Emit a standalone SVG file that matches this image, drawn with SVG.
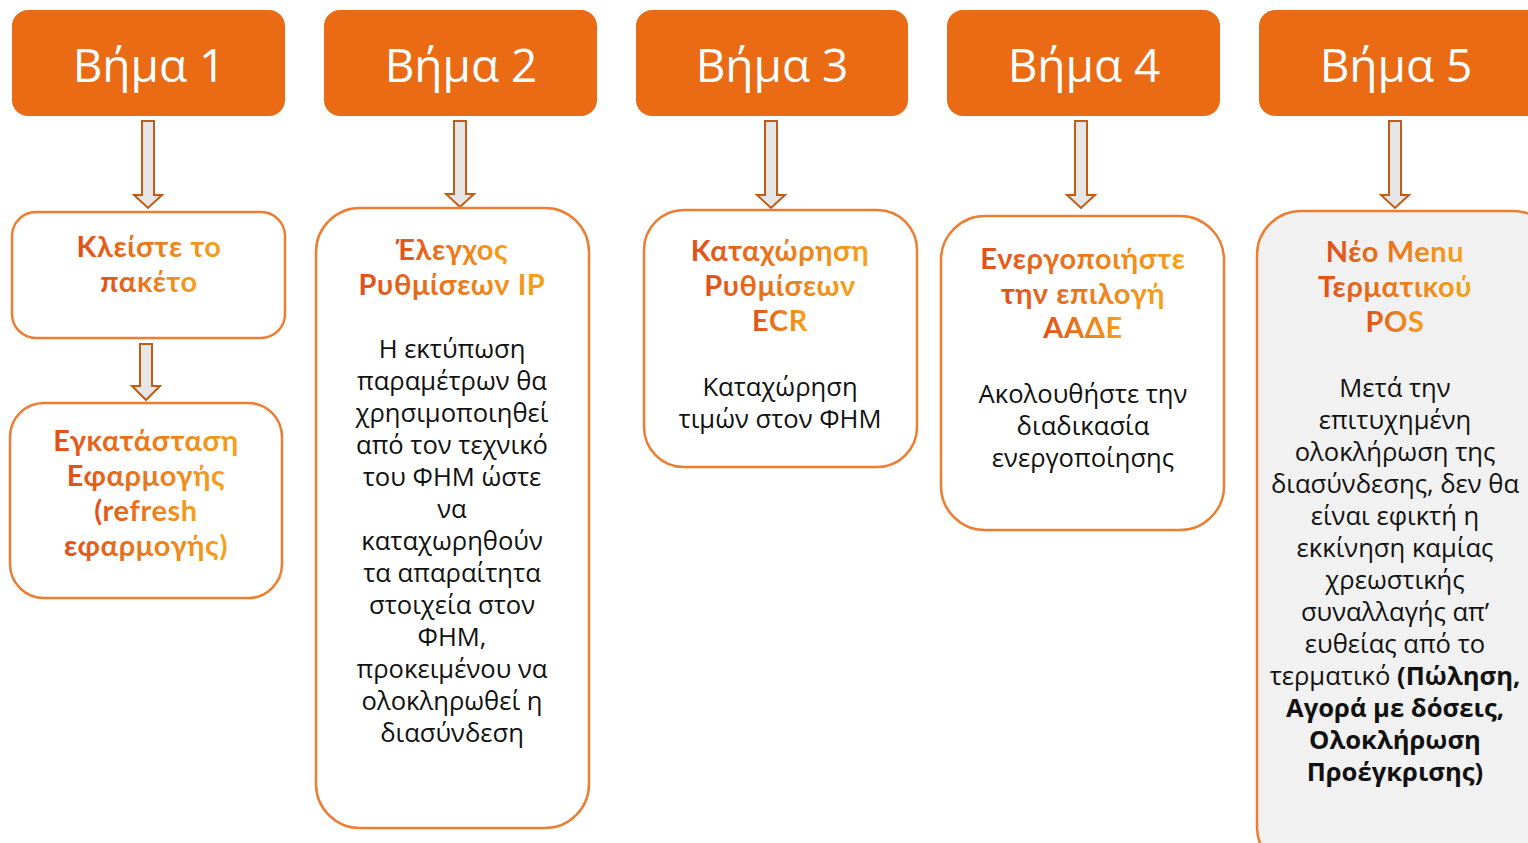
<svg xmlns="http://www.w3.org/2000/svg" width="1528" height="843" viewBox="0 0 1528 843">
<defs>
<linearGradient id="tg" x1="0" y1="0" x2="1" y2="0">
<stop offset="0" stop-color="#E0501B"/>
<stop offset="1" stop-color="#F6A21B"/>
</linearGradient>
<style>
.hdr{fill:#EB6A14}
.hdrt{fill:#fff;font-family:"Open Sans","Noto Sans",sans-serif;font-size:46px;text-anchor:middle}
.box{fill:#fff;stroke:#ED7D31;stroke-width:2.5}
.box5{fill:#F1F1F1;stroke:#ED7D31;stroke-width:2.5}
.ttl{fill:url(#tg);font-family:"Lato","Noto Sans",sans-serif;font-weight:bold;font-size:29px;letter-spacing:0.6px;text-anchor:middle}
.bd{fill:#111;font-family:"Open Sans","Noto Sans",sans-serif;font-size:25.6px;text-anchor:middle}
.b{font-weight:bold}
.arr{fill:#E7E6E6;stroke:#C55A11;stroke-width:2;stroke-linejoin:miter}
</style>
</defs>

<g id="connectors">
<path class="arr" d="M142,121 H154 V195 H162 L148,208 L134,195 H142 Z"/>
<path class="arr" d="M140,344 H152 V386 H160 L146,400 L132,386 H140 Z"/>
<path class="arr" d="M454,121 H466 V194 H474 L460,207 L446,194 H454 Z"/>
<path class="arr" d="M765,121 H777 V195 H785 L771,208 L757,195 H765 Z"/>
<path class="arr" d="M1075,121 H1087 V195 H1095 L1081,208 L1067,195 H1075 Z"/>
<path class="arr" d="M1389,121 H1401 V195 H1409 L1395,208 L1381,195 H1389 Z"/>
</g>

<g id="step1">
<rect class="hdr" x="12" y="10" width="273" height="106" rx="16"/>
<text class="hdrt" x="149" y="82">Βήμα 1</text>
</g>
<g id="step2">
<rect class="hdr" x="324" y="10" width="273" height="106" rx="16"/>
<text class="hdrt" x="461" y="82">Βήμα 2</text>
</g>
<g id="step3">
<rect class="hdr" x="636" y="10" width="272" height="106" rx="16"/>
<text class="hdrt" x="772" y="82">Βήμα 3</text>
</g>
<g id="step4">
<rect class="hdr" x="947" y="10" width="273" height="106" rx="16"/>
<text class="hdrt" x="1084" y="82">Βήμα 4</text>
</g>
<g id="step5">
<rect class="hdr" x="1259" y="10" width="290" height="106" rx="16"/>
<text class="hdrt" x="1396" y="82">Βήμα 5</text>
</g>

<g id="close-package">
<rect class="box" x="12" y="212" width="273" height="126" rx="24"/>
<text class="ttl" x="149" y="257">Κλείστε το</text>
<text class="ttl" x="149" y="292">πακέτο</text>
</g>

<g id="install-app">
<rect class="box" x="10" y="403" width="272" height="195" rx="34"/>
<text class="ttl" x="146" y="451">Εγκατάσταση</text>
<text class="ttl" x="146" y="486">Εφαρμογής</text>
<text class="ttl" x="146" y="521">(refresh</text>
<text class="ttl" x="146" y="556">εφαρμογής)</text>
</g>

<g id="ip-settings">
<rect class="box" x="316" y="208" width="273" height="620" rx="44"/>
<text class="ttl" x="452" y="260">Έλεγχος</text>
<text class="ttl" x="452" y="295">Ρυθμίσεων IP</text>
<text class="bd" x="452" y="358">Η εκτύπωση</text>
<text class="bd" x="452" y="390">παραμέτρων θα</text>
<text class="bd" x="452" y="422">χρησιμοποιηθεί</text>
<text class="bd" x="452" y="454">από τον τεχνικό</text>
<text class="bd" x="452" y="486">του ΦΗΜ ώστε</text>
<text class="bd" x="452" y="518">να</text>
<text class="bd" x="452" y="550">καταχωρηθούν</text>
<text class="bd" x="452" y="582">τα απαραίτητα</text>
<text class="bd" x="452" y="614">στοιχεία στον</text>
<text class="bd" x="452" y="646">ΦΗΜ,</text>
<text class="bd" x="452" y="678">προκειμένου να</text>
<text class="bd" x="452" y="710">ολοκληρωθεί η</text>
<text class="bd" x="452" y="742">διασύνδεση</text>
</g>

<g id="ecr-settings">
<rect class="box" x="644" y="210" width="273" height="257" rx="40"/>
<text class="ttl" x="780" y="261">Καταχώρηση</text>
<text class="ttl" x="780" y="296">Ρυθμίσεων</text>
<text class="ttl" x="780" y="331">ECR</text>
<text class="bd" x="780" y="396">Καταχώρηση</text>
<text class="bd" x="780" y="428">τιμών στον ΦΗΜ</text>
</g>

<g id="aade">
<rect class="box" x="941" y="216" width="283" height="314" rx="44"/>
<text class="ttl" x="1083" y="269">Ενεργοποιήστε</text>
<text class="ttl" x="1083" y="304">την επιλογή</text>
<text class="ttl" x="1083" y="338">ΑΑΔΕ</text>
<text class="bd" x="1083" y="403">Ακολουθήστε την</text>
<text class="bd" x="1083" y="435">διαδικασία</text>
<text class="bd" x="1083" y="467">ενεργοποίησης</text>
</g>

<g id="pos-menu">
<rect class="box5" x="1257" y="211" width="300" height="660" rx="44"/>
<text class="ttl" x="1395" y="262">Νέο Menu</text>
<text class="ttl" x="1395" y="297">Τερματικού</text>
<text class="ttl" x="1395" y="332">POS</text>
<text class="bd" x="1395" y="397">Μετά την</text>
<text class="bd" x="1395" y="429">επιτυχημένη</text>
<text class="bd" x="1395" y="461">ολοκλήρωση της</text>
<text class="bd" x="1395" y="493">διασύνδεσης, δεν θα</text>
<text class="bd" x="1395" y="525">είναι εφικτή η</text>
<text class="bd" x="1395" y="557">εκκίνηση καμίας</text>
<text class="bd" x="1395" y="589">χρεωστικής</text>
<text class="bd" x="1395" y="621">συναλλαγής απ’</text>
<text class="bd" x="1395" y="653">ευθείας από το</text>
<text class="bd" x="1395" y="685">τερματικό <tspan class="b">(Πώληση,</tspan></text>
<text class="bd b" x="1395" y="717">Αγορά με δόσεις,</text>
<text class="bd b" x="1395" y="749">Ολοκλήρωση</text>
<text class="bd b" x="1395" y="781">Προέγκρισης)</text>
</g>
</svg>
